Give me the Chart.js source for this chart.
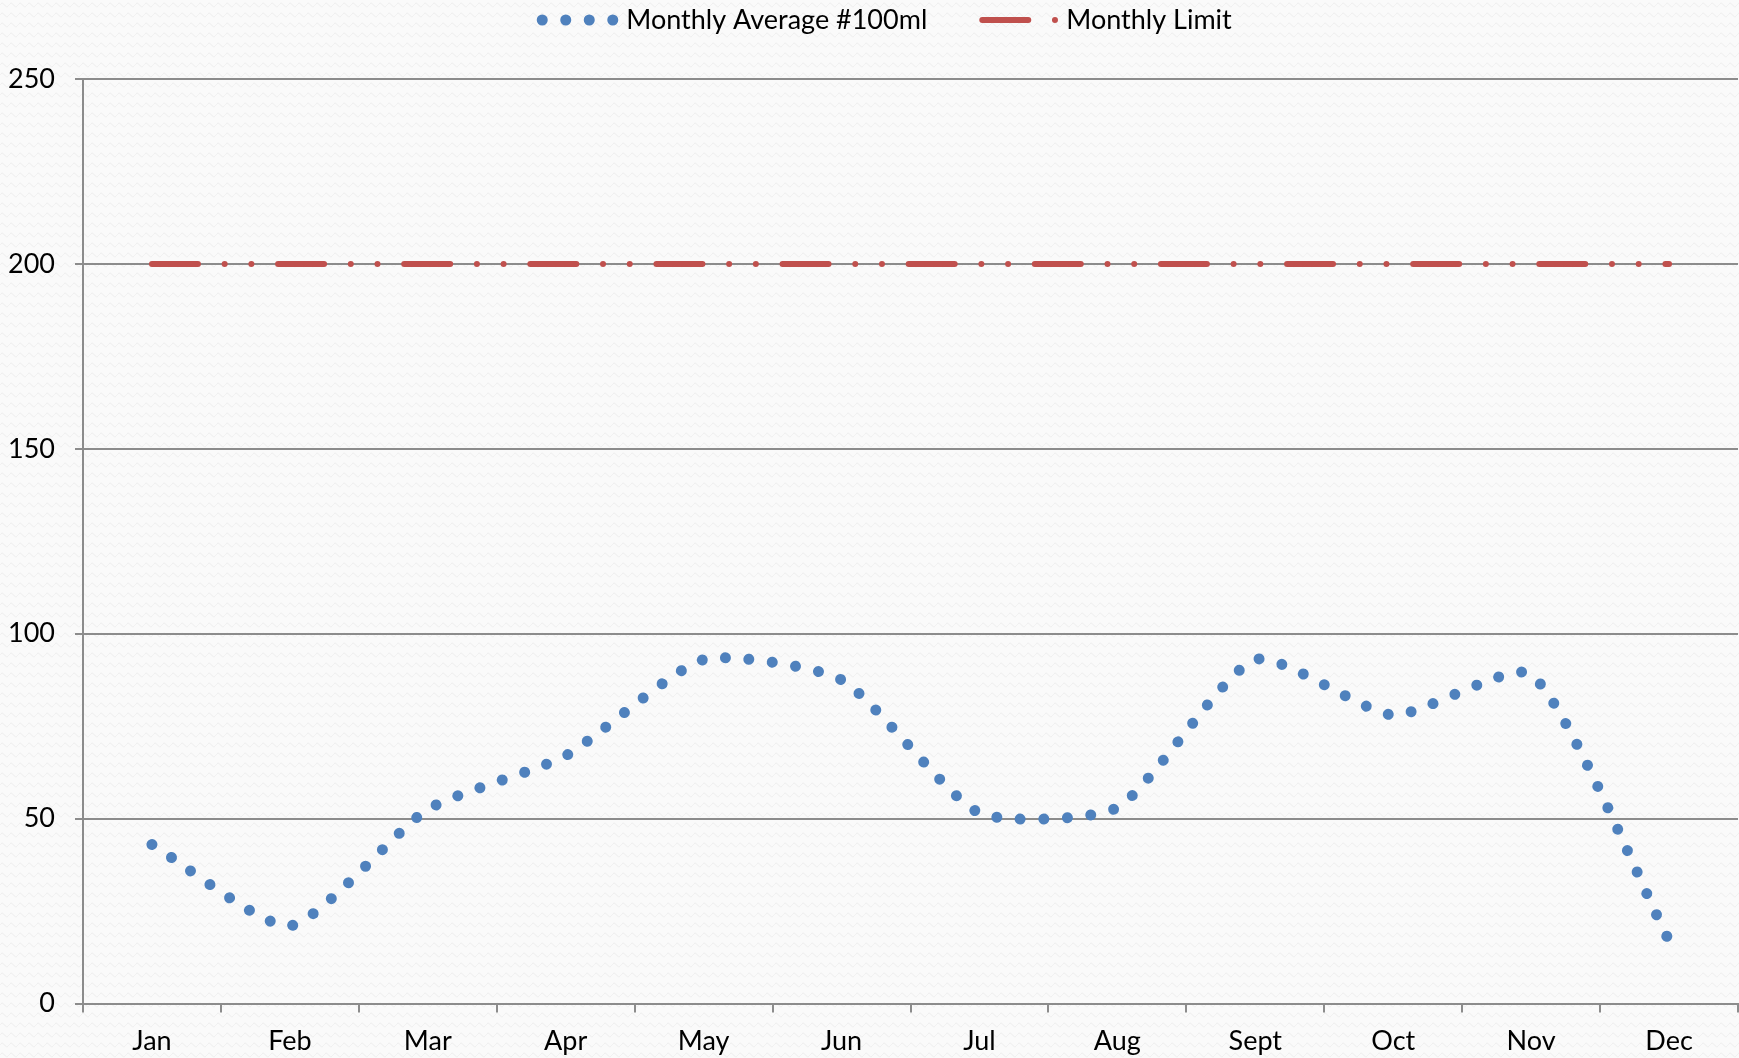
<!DOCTYPE html>
<html>
<head>
<meta charset="utf-8">
<title>Monthly Average #100ml</title>
<script src="https://cdn.jsdelivr.net/npm/chart.js@4.4.1/dist/chart.umd.min.js"></script>
<style>
  html, body { margin: 0; padding: 0; background: #f9f9f9; }
  canvas { display: block; }
</style>
</head>
<body>
<canvas id="chart" width="1739" height="1058"></canvas>
<script>
// values
const months = ['Jan', 'Feb', 'Mar', 'Apr', 'May', 'Jun', 'Jul', 'Aug', 'Sept', 'Oct', 'Nov', 'Dec'];
const monthlyAverage = [43, 21, 52.5, 67, 93, 87.5, 51.5, 53, 93, 78, 89, 17];
const monthlyLimit = [200, 200, 200, 200, 200, 200, 200, 200, 200, 200, 200, 200];
const yTicks = [0, 50, 100, 150, 200, 250];

const FONT = 'Lato, "Open Sans", sans-serif';
const FONT_SIZE = 27;
const GRID = '#8c8c8c';

const LEGEND_LINE = 73;
const LEGEND_TEXT_GAP = 11;
const LEGEND_ITEM_GAP = 55;
const LEGEND_CENTER = 887;

function makePattern(ctx) {
    let tile = document.createElement('canvas');
    tile.width = 9;
    tile.height = 10;
    let t = tile.getContext('2d');
    t.fillStyle = '#fafafa';
    t.fillRect(0, 0, 9, 10);
    t.strokeStyle = '#ededed';
    t.lineWidth = 1;
    t.beginPath();
    for (let x = 0; x <= 9; x += 0.5) {
        let y = 5 - 1.8 * Math.sin(2 * Math.PI * x / 9);
        if (x === 0) t.moveTo(x, y); else t.lineTo(x, y);
    }
    t.stroke();
    return ctx.createPattern(tile, 'repeat');
}

const background = {
    id: 'background',
    beforeDraw(chart) {
        let ctx = chart.ctx;
        ctx.save();
        ctx.fillStyle = makePattern(ctx);
        ctx.fillRect(0, 0, chart.width, chart.height);
        ctx.restore();
    }
};

// excel-like legend: dash sample followed by label, centred on top
const topLegend = {
    id: 'topLegend',
    afterDraw(chart) {
        let ctx = chart.ctx;
        let sets = chart.data.datasets;
        ctx.save();
        ctx.font = FONT_SIZE + 'px ' + FONT;
        let widths = sets.map((ds) => LEGEND_LINE + LEGEND_TEXT_GAP + ctx.measureText(ds.label).width);
        let total = widths.reduce((a, b) => a + b, 0) + LEGEND_ITEM_GAP * (sets.length - 1);
        let x = LEGEND_CENTER - total / 2;
        sets.forEach((ds, i) => {
            ctx.strokeStyle = ds.borderColor;
            ctx.lineWidth = ds.borderWidth;
            ctx.lineCap = 'round';
            ctx.setLineDash(ds.borderDash);
            ctx.beginPath();
            ctx.moveTo(x, 20);
            ctx.lineTo(x + LEGEND_LINE, 20);
            ctx.stroke();
            ctx.setLineDash([]);
            ctx.fillStyle = '#000';
            ctx.textBaseline = 'alphabetic';
            ctx.fillText(ds.label, x + LEGEND_LINE + LEGEND_TEXT_GAP, 28.5);
            x += widths[i] + LEGEND_ITEM_GAP;
        });
        ctx.restore();
    }
};

let canvas = document.getElementById('chart');
let chart = new Chart(canvas, {
    type: 'line',
    data: {
        labels: months,
        datasets: [
            {
                label: 'Monthly Average #100ml',
                data: monthlyAverage,
                borderColor: '#4f81bd',
                borderWidth: 11,
                borderDash: [0.01, 23.5],
                borderCapStyle: 'round',
                tension: 0.2,
                pointRadius: 0,
                fill: false
            },
            {
                label: 'Monthly Limit',
                data: monthlyLimit,
                borderColor: '#c0504d',
                borderWidth: 6,
                borderDash: [46, 26.7, 0.01, 26.7, 0.01, 26.7],
                borderCapStyle: 'round',
                tension: 0,
                pointRadius: 0,
                fill: false
            }
        ]
    },
    options: {
        responsive: false,
        animation: false,
        layout: {padding: {top: 79, left: 0, right: 1, bottom: 0}},
        plugins: {
            legend: {display: false},
            tooltip: {enabled: false}
        },
        scales: {
            x: {
                offset: true,
                grid: {offset: true, drawOnChartArea: false, color: GRID, lineWidth: 2, tickLength: 9},
                border: {color: GRID, width: 2},
                ticks: {color: '#000', font: {family: FONT, size: FONT_SIZE}, padding: 13, maxRotation: 0, autoSkip: false},
                afterFit: (scale) => { scale.height = 54.5; }
            },
            y: {
                min: 0,
                max: 250,
                grid: {color: GRID, lineWidth: 2, tickLength: 8},
                border: {color: GRID, width: 2},
                ticks: {color: '#000', font: {family: FONT, size: FONT_SIZE}, padding: 20},
                afterBuildTicks: (scale) => { scale.ticks = yTicks.map((v) => ({value: v})); },
                afterFit: (scale) => { scale.width = 83; }
            }
        }
    },
    plugins: [background, topLegend]
});
</script>
</body>
</html>
